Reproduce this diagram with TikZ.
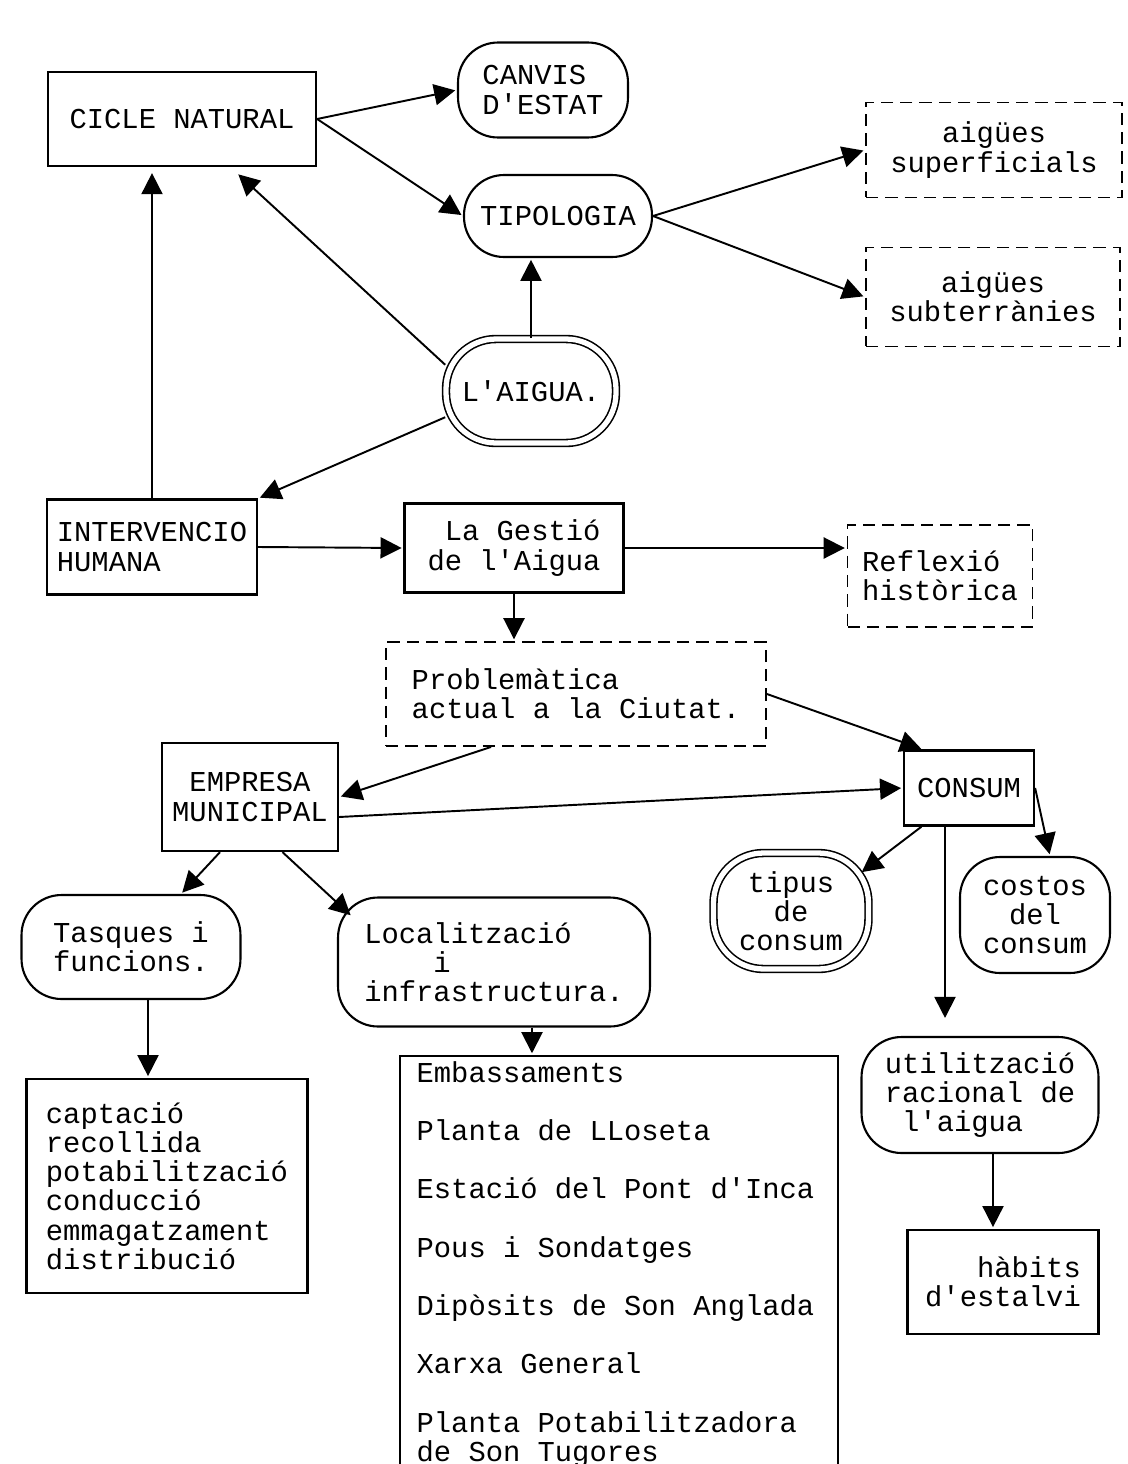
\documentclass[tikz,border=0pt]{standalone}
\usepackage{fontspec}
\newfontfamily\typewriter{Liberation Mono}
\newcommand\twfont{\typewriter\fontsize{16.4}{16.6}\selectfont}
\usetikzlibrary{arrows.meta}
\begin{document}
\begin{tikzpicture}[x=0.02cm, y=-0.02cm,
    every node/.style={font=\twfont, inner sep=0.2cm},
    solidbox/.style={draw, line width=1.3pt},
    dashbox/.style={draw, line width=1.1pt, dash pattern=on 7pt off 4pt},
    blob/.style={draw, line width=1.2pt, rounded corners=0.8cm},
    dblob/.style={draw, line width=0.9pt, double, double distance=3pt, rounded corners=1cm},
    flow/.style={-{Triangle[length=12pt,width=12pt]}, line width=1.1pt, shorten >=1pt}]
    \path[use as bounding box, fill=white] (0,0) rectangle (1127,1464);
    % top part
    \node [solidbox, minimum width=5.36cm, minimum height=1.88cm, align=left] (cicle) at (182,119) {CICLE NATURAL};
    \node [blob, minimum width=3.4cm, minimum height=1.9cm, align=left] (canvis) at (543,90) {CANVIS\\D'ESTAT};
    \node [blob, minimum width=3.76cm, minimum height=1.64cm] (tipologia) at (558,216) {TIPOLOGIA};
    \node [dashbox, minimum width=5.12cm, minimum height=1.9cm, align=center] (superf) at (994,150) {aigües\\superficials};
    \node [dashbox, minimum width=5.08cm, minimum height=1.98cm, align=center] (subterr) at (993,297) {aigües\\subterrànies};
    \node [dblob, minimum width=3.4cm, minimum height=2.08cm] (aigua) at (531,391) {L'AIGUA.};
    % middle part
    \node [solidbox, minimum width=4.2cm, minimum height=1.9cm, align=left] (interv) at (152,547) {INTERVENCIO\\HUMANA};
    \node [solidbox, minimum width=4.38cm, minimum height=1.78cm, align=right] (gestio) at (514,548) {La Gestió\\de l'Aigua};
    \node [dashbox, minimum width=3.7cm, minimum height=2.04cm, align=left] (reflexio) at (940,576) {Reflexió\\històrica};
    \node [dashbox, minimum width=7.6cm, minimum height=2.08cm, align=left] (problem) at (576,694) {Problemàtica\\actual a la Ciutat.};
    \node [solidbox, minimum width=3.52cm, minimum height=2.16cm, align=center] (empresa) at (250,797) {EMPRESA\\MUNICIPAL};
    \node [solidbox, minimum width=2.6cm, minimum height=1.5cm] (consum) at (969,788) {CONSUM};
    \node [dblob, minimum width=3.1cm, minimum height=2.32cm, align=center] (tipus) at (791,911) {tipus\\de\\consum};
    \node [blob, minimum width=3cm, minimum height=2.32cm, align=center] (costos) at (1035,915) {costos\\del\\consum};
    \node [blob, minimum width=4.38cm, minimum height=2.08cm, align=left] (tasques) at (131,947) {Tasques i\\funcions.};
    \node [blob, minimum width=6.24cm, minimum height=2.58cm, align=left] (localitz) at (494,962) {Localització\\\phantom{xxxx}i\\infrastructura.};
    % bottom part
    \node [solidbox, minimum width=5.62cm, minimum height=4.28cm, align=left] (captacio) at (167,1186) {captació\\recollida\\potabilització\\conducció\\emmagatzament\\distribució};
    \node [solidbox, anchor=north west, text width=8.1cm, inner xsep=0.33cm, inner ysep=0.1cm, text depth=8.2cm, align=flush left] (embass) at (399,1055)
        {Embassaments\\[16.6pt]Planta de LLoseta\\[16.6pt]Estació del Pont d'Inca\\[16.6pt]Pous i Sondatges\\[16.6pt]Dipòsits de Son Anglada\\[16.6pt]Xarxa General\\[16.6pt]Planta Potabilitzadora\\de Son Tugores};
    \node [blob, minimum width=4.74cm, minimum height=2.32cm, align=left] (utiliz) at (980,1095) {utilització\\racional de\\\phantom{x}l'aigua};
    \node [solidbox, minimum width=3.82cm, minimum height=2.08cm, align=right] (habits) at (1003,1282) {hàbits\\d'estalvi};
    % connectors
    \draw[flow] (cicle.east) -- (canvis.west);
    \draw[flow] (cicle.east) -- (tipologia.west);
    \draw[flow] (tipologia.east) -- (superf.west);
    \draw[flow] (tipologia.east) -- (subterr.west);
    \draw[flow] (aigua.north) -- (aigua.north |- tipologia.south);
    \draw[flow] (aigua.163) -- ([xshift=1.1cm,yshift=-0.12cm]cicle.south);
    \draw[flow] (aigua.197) -- (interv.north east);
    \draw[flow, shorten >=0.12cm] (interv.north) -- (interv.north |- cicle.south);
    \draw[flow] (interv.east) -- (gestio.west);
    \draw[flow] (gestio.east) -- (gestio.east -| reflexio.west);
    \draw[flow] (gestio.south) -- (gestio.south |- problem.north);
    \draw[flow] ([xshift=-1.7cm]problem.south) -- (empresa.east);
    \draw[flow] (problem.east) -- ([xshift=0.4cm]consum.north west);
    \draw[flow] ([yshift=-0.4cm]empresa.east) -- (consum.west);
    \draw[flow] ([xshift=-0.6cm]empresa.south) -- ([xshift=1cm]tasques.north);
    \draw[flow] ([xshift=0.65cm]empresa.south) -- ([xshift=0.3cm,yshift=-0.4cm]localitz.north west);
    \draw[flow] ([xshift=-0.95cm]consum.south) -- ([xshift=-0.18cm,yshift=-0.42cm]tipus.north east);
    \draw[flow] (consum.east) -- ([xshift=0.3cm]costos.north);
    \coordinate (c1) at ([xshift=-0.48cm]consum.south);
    \draw[flow, shorten >=0.36cm] (c1) -- (c1 |- utiliz.north);
    \coordinate (c2) at ([xshift=0.34cm]tasques.south);
    \draw[flow] (c2) -- (c2 |- captacio.north);
    \coordinate (c3) at ([xshift=0.76cm]localitz.south);
    \draw[flow] (c3) -- (c3 |- embass.north);
    \coordinate (c4) at ([xshift=0.26cm]utiliz.south);
    \draw[flow] (c4) -- (c4 |- habits.north);
\end{tikzpicture}
\end{document}
